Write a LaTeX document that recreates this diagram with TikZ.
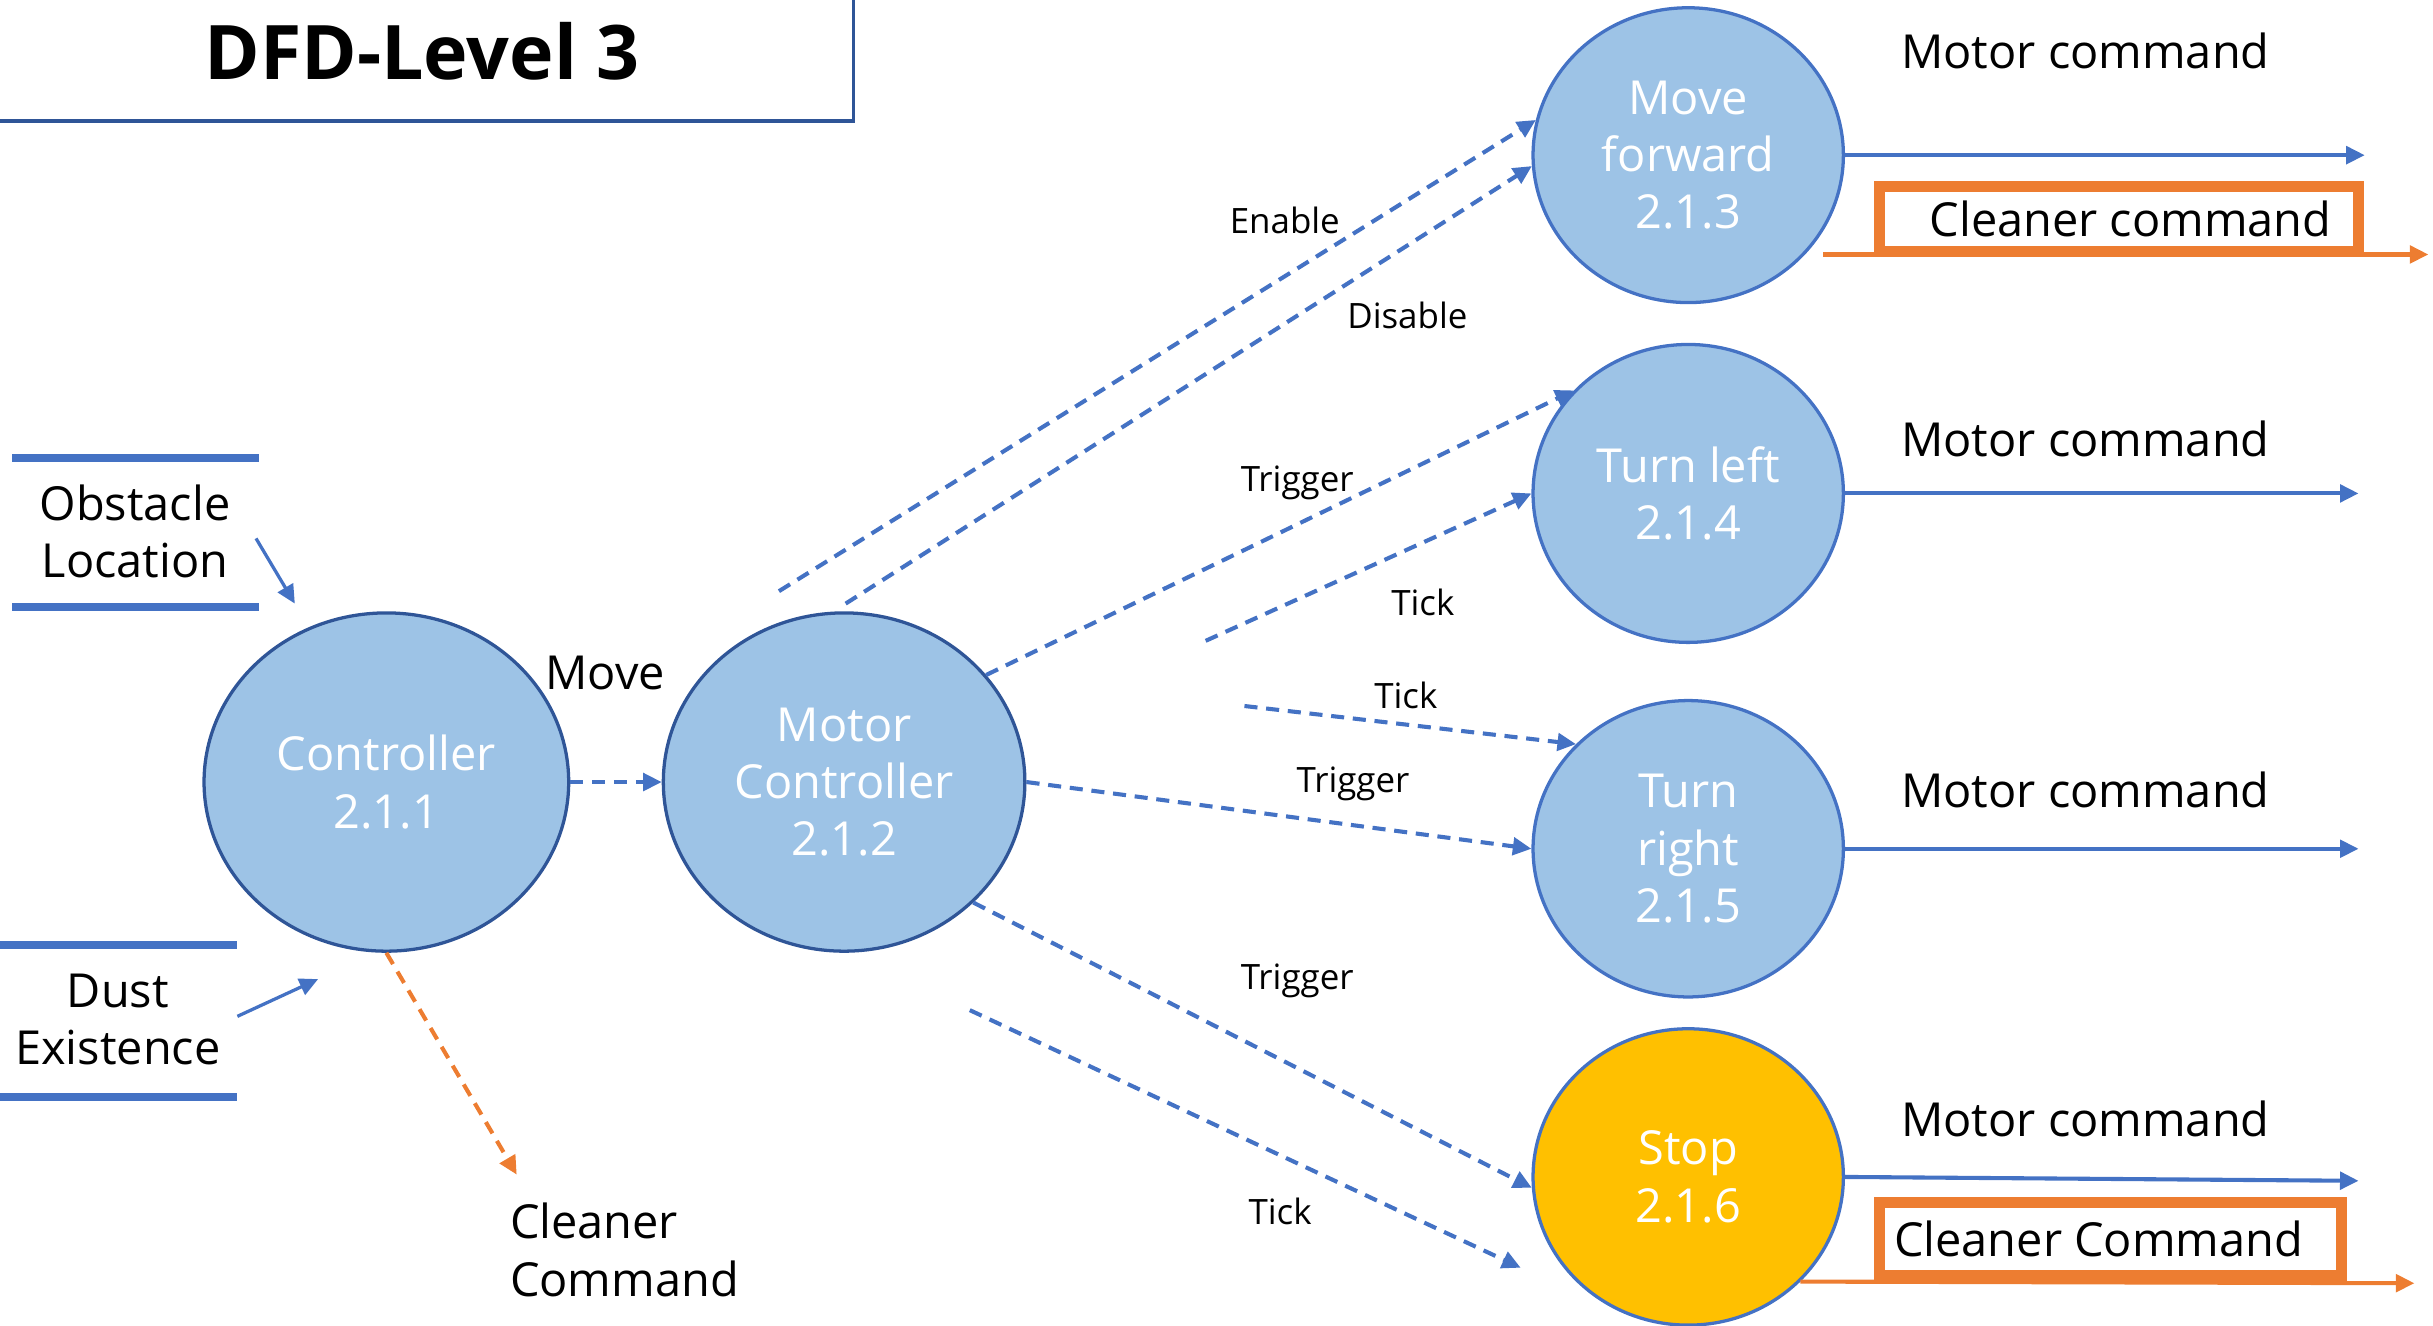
\documentclass[tikz,border=0pt]{standalone}
\usepackage{fontspec}
\setmainfont{Open Sans}
\usepackage{tikz}
\usetikzlibrary{arrows.meta}
\usetikzlibrary{shapes.geometric}
\definecolor{procblue}{HTML}{9DC3E6}
\definecolor{darkline}{HTML}{2F5597}
\definecolor{flowblue}{HTML}{4472C4}
\definecolor{cmdorange}{HTML}{ED7D31}
\definecolor{stopyellow}{HTML}{FFC000}
\tikzset{lbl/.style={font=\fontsize{6.4}{7.5}\selectfont}}
\tikzset{txt/.style={font=\fontsize{8.6}{10.5}\selectfont, align=center}}
\tikzset{proc/.style={ellipse, draw=flowblue, fill=procblue, text=white, inner sep=0pt, line width=0.6pt, txt}}
\tikzset{flow/.style={-{Triangle[length=3.4pt,width=3.2pt]}, flowblue, line width=0.75pt}}
\tikzset{dflow/.style={flow, dash pattern=on 2.4pt off 1.6pt}}
\tikzset{oflow/.style={flow, cmdorange}}
\tikzset{store/.style={flowblue, line width=1.4pt}}
\tikzset{cmdbox/.style={draw=cmdorange, line width=2pt, fill=white, inner sep=0pt, txt}}

\begin{document}
\begin{tikzpicture}
  \useasboundingbox (0,0) rectangle (15.68,8.54);
  % title
  \draw[darkline, line width=0.6pt] (0,7.76) -- (5.5,7.76) -- (5.5,8.54);
  \node[font=\fontsize{13.8}{16}\selectfont\bfseries] (title) at (2.72,8.21) {DFD-Level\ 3};

  % processes
  \node[proc, draw=darkline, minimum width=2.35cm, minimum height=2.18cm] (ctl) at (2.49,3.50) {Controller\\2.1.1};
  \node[proc, draw=darkline, minimum width=2.33cm, minimum height=2.18cm] (mc) at (5.44,3.50) {Motor\\Controller\\2.1.2};
  \node[proc, minimum width=2cm, minimum height=1.90cm] (mf) at (10.88,7.54) {Move\\forward\\2.1.3};
  \node[proc, minimum width=2cm, minimum height=1.92cm] (tl) at (10.88,5.36) {Turn left\\2.1.4};
  \node[proc, minimum width=2cm, minimum height=1.91cm] (tr) at (10.88,3.07) {Turn\\right\\2.1.5};
  \node[proc, fill=stopyellow, minimum width=2cm, minimum height=1.91cm] (st) at (10.88,0.955) {Stop\\2.1.6};

  % data stores
  \draw[store] (0.08,5.59) -- (1.67,5.59);
  \draw[store] (0.08,4.63) -- (1.67,4.63);
  \node[txt] (obs) at (0.87,5.115) {Obstacle\\Location};
  \draw[store] (0,2.45) -- (1.53,2.45);
  \draw[store] (0,1.47) -- (1.53,1.47);
  \node[txt] (dust) at (0.76,1.97) {Dust\\Existence};

  % free ends
  \coordinate (obsA) at (1.65,5.07);
  \coordinate (obsB) at (1.90,4.65);
  \coordinate (dustA) at (1.53,1.99);
  \coordinate (dustB) at (2.05,2.23);
  \coordinate (clnB) at (3.33,0.97);
  \coordinate (enA) at (5.02,4.73);
  \coordinate (disA) at (5.45,4.65);
  \coordinate (tickA) at (7.77,4.41);
  \coordinate (tickB) at (8.02,3.99);
  \coordinate (tickC) at (6.25,2.03);
  \coordinate (tickD) at (9.80,0.37);

  % inputs
  \draw[flow, line width=0.6pt] (obsA) -- (obsB);
  \draw[flow, line width=0.6pt] (dustA) -- (dustB);
  \draw[oflow, dash pattern=on 2.4pt off 1.6pt] (ctl.south) -- (clnB);
  \node[txt, anchor=west, align=left, inner sep=0pt] (cln) at (3.28,0.485) {Cleaner\\Command};
  \draw[dflow] (ctl.east) -- (mc.west);
  \node[txt] (move) at (3.90,4.20) {Move};

  % control flows
  \draw[dflow] (enA) -- (mf.167);
  \draw[dflow] (disA) -- (mf.184);
  \node[lbl] (en) at (8.28,7.12) {Enable};
  \node[lbl] (dis) at (9.07,6.51) {Disable};
  \draw[dflow] (mc.37) -- (tl.138);
  \draw[dflow] (tickA) -- (tl.west);
  \node[lbl] (trg1) at (8.36,5.43) {Trigger};
  \node[lbl] (tck1) at (9.17,4.66) {Tick};
  \draw[dflow] (tickB) -- (tr.137);
  \draw[dflow] (mc.east) -- (tr.west);
  \node[lbl] (tck2) at (9.06,4.06) {Tick};
  \node[lbl] (trg2) at (8.72,3.49) {Trigger};
  \draw[dflow] (mc.-43) -- (st.184);
  \draw[dflow] (tickC) -- (tickD);
  \node[lbl] (trg3) at (8.36,2.22) {Trigger};
  \node[lbl] (tck3) at (8.25,0.73) {Tick};

  % outputs
  \coordinate (mfO) at (15.24,7.54);
  \coordinate (mfA) at (11.75,6.90);
  \coordinate (mfB) at (15.65,6.90);
  \coordinate (tlO) at (15.20,5.36);
  \coordinate (trO) at (15.20,3.07);
  \coordinate (stO) at (15.20,0.93);
  \coordinate (stB) at (15.56,0.27);
  \draw[flow] (mf.east) -- (mfO);
  \draw[oflow] (mfA) -- (mfB);
  \node[txt] (mcmd1) at (13.44,8.21) {Motor command};
  \node[cmdbox, minimum width=3.09cm, minimum height=0.42cm] (cb1) at (13.655,7.13) {\hspace{0.15cm}Cleaner command};
  \draw[flow] (tl.east) -- (tlO);
  \node[txt] (mcmd2) at (13.44,5.71) {Motor command};
  \draw[flow] (tr.east) -- (trO);
  \node[txt] (mcmd3) at (13.44,3.45) {Motor command};
  \draw[flow] (st.east) -- (stO);
  \draw[oflow] (st.-43) -- (stB);
  \node[txt] (mcmd4) at (13.44,1.33) {Motor command};
  \node[cmdbox, minimum width=2.98cm, minimum height=0.47cm] (cb2) at (13.60,0.555) {Cleaner Command\hspace{0.15cm}};
\end{tikzpicture}
\end{document}
